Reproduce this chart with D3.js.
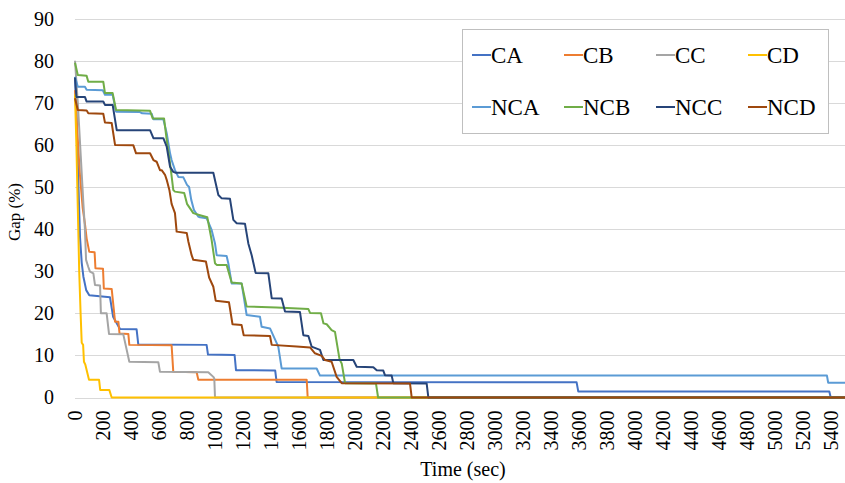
<!DOCTYPE html>
<html>
<head>
<meta charset="utf-8">
<script src="https://cdn.jsdelivr.net/npm/d3@7"></script>
<style>
  html, body { margin: 0; padding: 0; background: #fff; }
  svg { display: block; font-family: "Liberation Serif", "Times New Roman", serif; }
  .grid line { stroke: #d9d9d9; stroke-width: 1; }
  .series { fill: none; stroke-width: 2; stroke-linejoin: round; }
</style>
</head>
<body>
<svg id="chart" width="845" height="483"></svg>
<script>
// Series names and Excel default colours
const seriesNames = ["CA", "CB", "CC", "CD", "NCA", "NCB", "NCC", "NCD"];
const seriesColors = ["#4472C4", "#ED7D31", "#A5A5A5", "#FFC000", "#5B9BD5", "#70AD47", "#264478", "#9E480E"];

// [time (sec), gap (%)]
const CA = [[0,76],[10,68],[25,50],[36,38],[48,32],[60,28.7],[80,25.5],[102,24.3],[250,23.8],[272,19.2],[300,17.5],[321,16.3],[440,16.2],[452,12.6],[940,12.5],[950,10.2],[1140,10.1],[1150,6.5],[1430,6.4],[1440,3.7],[3583,3.6],[3595,1.4],[5388,1.4],[5398,0],[5500,0]];
const CB = [[0,73],[15,64],[35,53],[55,45],[72,41],[83,37.8],[102,34.6],[140,34.5],[146,30.7],[200,30.6],[206,25.9],[262,25.8],[286,18],[310,18],[318,15.2],[381,15.1],[388,12.5],[690,12.4],[702,6.1],[869,6],[881,4.2],[1655,4.2],[1662,0],[5500,0]];
const CC = [[0,80],[20,70],[40,58],[60,46],[71,40],[79,32.7],[95,31],[107,29.9],[131,29.5],[143,26.7],[179,26.6],[185,20],[226,20],[243,15.1],[345,15],[388,8.5],[595,8.4],[607,6.1],[952,6],[988,4.9],[995,4.5],[1000,0],[5500,0]];
const CD = [[0,72],[10,60],[20,45],[30,30],[40,20],[48,13],[58,12.5],[64,8.5],[74,7.8],[100,4.2],[172,4.2],[180,1.8],[245,1.8],[262,0],[5500,0]];
const NCA = [[0,76.2],[20,73.8],[71,73.8],[83,73.1],[198,73],[214,71.9],[269,71.9],[293,67.9],[464,67.8],[480,67.5],[548,67.4],[560,66.1],[631,66.1],[655,62.8],[679,58],[690,56.4],[714,54],[738,52.4],[774,52.3],[800,50.5],[815,50],[830,47],[850,44.5],[880,43],[893,42.8],[940,42.6],[976,39.8],[1000,36.6],[1012,33.8],[1083,33.6],[1095,31.9],[1119,27.1],[1190,27.1],[1205,24],[1226,19.6],[1321,19.2],[1333,16.8],[1393,16.4],[1452,12.1],[1476,6.9],[1726,6.9],[1750,5.2],[5371,5.2],[5380,3.5],[5500,3.5]];
const NCB = [[0,79.5],[20,76.6],[83,76.4],[95,75],[202,75],[214,72.3],[269,72.3],[293,68.3],[536,68.1],[555,66.3],[636,66.3],[655,61.2],[679,55.6],[702,49.3],[714,48.9],[780,48.6],[800,46],[845,43.8],[893,43.3],[945,42.8],[976,37.4],[1000,31.9],[1012,31.5],[1083,31.5],[1119,27.3],[1190,27.1],[1226,21.6],[1440,21.4],[1667,21],[1679,20.1],[1757,20],[1775,17.6],[1798,17.4],[1833,16],[1857,15.6],[1890,9],[1905,8.1],[1929,3.4],[2150,3.3],[2165,0],[5500,0]];
const NCC = [[0,76],[10,71.4],[71,71.4],[83,70.3],[202,70.3],[214,69.5],[269,69.5],[298,63.5],[536,63.5],[560,61.6],[631,61.6],[655,59.6],[679,54.8],[702,53.6],[720,53.4],[988,53.4],[1024,48.1],[1048,47.3],[1107,47.2],[1131,42.2],[1155,41.4],[1214,41.3],[1238,36.6],[1262,33.8],[1290,29.6],[1381,29.5],[1405,23.6],[1476,23.5],[1500,20.4],[1607,20.3],[1631,14.8],[1667,14.6],[1690,12.1],[1750,11.3],[1774,8.9],[1988,8.9],[2012,7.3],[2131,7.2],[2155,6.5],[2202,6.4],[2214,5.3],[2262,5.2],[2274,3.4],[2512,3.3],[2524,0],[5500,0]];
const NCD = [[0,71.1],[20,68.3],[83,68.2],[95,67.5],[202,67.4],[214,65.3],[262,65.2],[286,60],[417,59.9],[436,58],[536,58],[560,56.4],[583,56],[607,54],[619,54],[643,52.9],[655,51.7],[674,49.3],[690,46],[714,43.8],[726,39.4],[798,39.1],[810,37],[833,33.8],[845,32.7],[935,32.3],[958,28.5],[988,26.3],[1005,23],[1100,22.6],[1125,17.4],[1190,17.2],[1205,14.8],[1393,14.6],[1405,12.5],[1583,12.1],[1679,11.9],[1714,10.5],[1762,9.9],[1786,8.9],[1833,8.5],[1869,4.9],[1905,3.4],[2393,3.3],[2405,0],[5500,0]];

const seriesData = [CA, CB, CC, CD, NCA, NCB, NCC, NCD];

// Axis ticks
const xTicks = d3.range(0, 5401, 200);
const yTicks = [0, 10, 20, 30, 40, 50, 60, 70, 80, 90];

const svg = d3.select("#chart");

const x = d3.scaleLinear().domain([0, 5500]).range([75, 845]);
const y = d3.scaleLinear().domain([0, 90]).range([397.5, 18.6]);

// Horizontal gridlines (including the 0 baseline)
svg.append("g")
  .attr("class", "grid")
  .selectAll("line")
  .data(yTicks)
  .join("line")
  .attr("x1", x(0))
  .attr("x2", 845)
  .attr("y1", (d) => Math.round(y(d)) + 0.5)
  .attr("y2", (d) => Math.round(y(d)) + 0.5);

// Y axis labels
const yAxis = svg.append("g")
  .attr("transform", `translate(${x(0) - 21},0)`)
  .call(d3.axisLeft(y).tickValues(yTicks).tickSize(0).tickPadding(0));
yAxis.select(".domain").remove();
yAxis.selectAll("text")
  .attr("font-family", "Liberation Serif")
  .attr("font-size", 20)
  .attr("fill", "#000");

// X axis labels, rotated
const xAxis = svg.append("g")
  .attr("transform", `translate(0,${y(0)})`)
  .call(d3.axisBottom(x).tickValues(xTicks).tickSize(0).tickFormat(d3.format("d")));
xAxis.select(".domain").remove();
xAxis.selectAll("text")
  .attr("font-family", "Liberation Serif")
  .attr("font-size", 20)
  .attr("fill", "#000")
  .attr("text-anchor", "end")
  .attr("transform", "rotate(-90)")
  .attr("x", -13)
  .attr("y", 0)
  .attr("dy", "0.33em");

// Axis titles
svg.append("text")
  .attr("x", 463)
  .attr("y", 476)
  .attr("text-anchor", "middle")
  .attr("font-size", 20)
  .text("Time (sec)");

svg.append("text")
  .attr("transform", "translate(20,212) rotate(-90)")
  .attr("text-anchor", "middle")
  .attr("font-size", 17)
  .text("Gap (%)");

// Series lines
const line = d3.line()
  .x((d) => x(d[0]))
  .y((d) => y(d[1]));

svg.append("g")
  .selectAll("path")
  .data(seriesData)
  .join("path")
  .attr("class", "series")
  .attr("stroke", (d, i) => seriesColors[i])
  .attr("d", line);

// Legend
const legend = svg.append("g");
legend.append("rect")
  .attr("x", 462.5)
  .attr("y", 29.5)
  .attr("width", 366)
  .attr("height", 104)
  .attr("fill", "#fff")
  .attr("stroke", "#bfbfbf");

const item = legend.selectAll(".item")
  .data(seriesNames)
  .join("g")
  .attr("class", "item")
  .attr("transform", (d, i) => `translate(${472 + (i % 4) * 92},${i < 4 ? 55 : 107})`);

item.append("line")
  .attr("x1", 0)
  .attr("x2", 19)
  .attr("stroke", (d, i) => seriesColors[i])
  .attr("stroke-width", 2);

item.append("text")
  .attr("x", 19)
  .attr("dy", "0.34em")
  .attr("font-size", 23)
  .text((d) => d);
</script>
</body>
</html>
